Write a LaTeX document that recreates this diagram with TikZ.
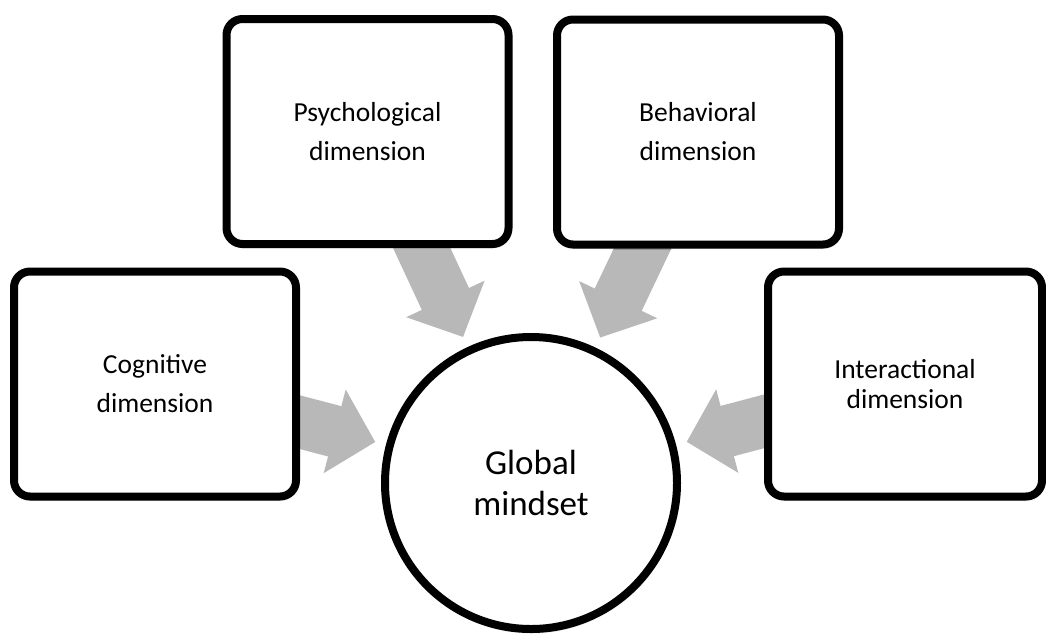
\documentclass[tikz,border=0pt]{standalone}
\usepackage{fontspec}
\setmainfont{Carlito}
\usetikzlibrary{arrows.meta,backgrounds,shadows.blur}

\definecolor{arrowgray}{RGB}{184,184,184}

\begin{document}
\begin{tikzpicture}[
            x=1pt, y=-1pt,
            boxshadow/.style={blur shadow={shadow xshift=1pt, shadow yshift=-3pt, shadow opacity=35, shadow blur steps=6}},
            dimbox/.style={draw=black, line width=8pt, rounded corners=16pt, fill=white, boxshadow,
                align=center, inner sep=0pt, minimum width=282pt, minimum height=225pt,
                font=\fontsize{27.5}{39}\selectfont},
            mindcircle/.style={circle, draw=black, line width=8pt, fill=white, boxshadow,
                align=center, inner sep=0pt, minimum size=292pt,
                font=\fontsize{35}{41}\selectfont},
            fatarrow/.style={draw=arrowgray, line width=52pt, -{Triangle[length=42pt,width=84pt]}, shorten >=11pt}
        ]
        \useasboundingbox (0,0) rectangle (1046,633);

        %% Dimensions

        \node[dimbox] (psych) at (367.5,131.5) {Psychological\\dimension};
        \node[dimbox] (behav) at (698,132) {Behavioral\\dimension};
        \node[dimbox] (cogn) at (155,384) {Cognitive\\dimension};
        \node[dimbox, minimum width=274pt, font=\fontsize{27.5}{30}\selectfont] (inter) at (905,384) {Interactional\\dimension};

        %% Centre

        \node[mindcircle] (mind) at (531,483) {Global\\mindset};

        %% Arrows, behind the boxes

        \begin{scope}[on background layer]
            \foreach \dimname in {psych,behav,cogn,inter}
                \draw[fatarrow] (\dimname.center) -- (mind);
        \end{scope}

    \end{tikzpicture}
\end{document}
